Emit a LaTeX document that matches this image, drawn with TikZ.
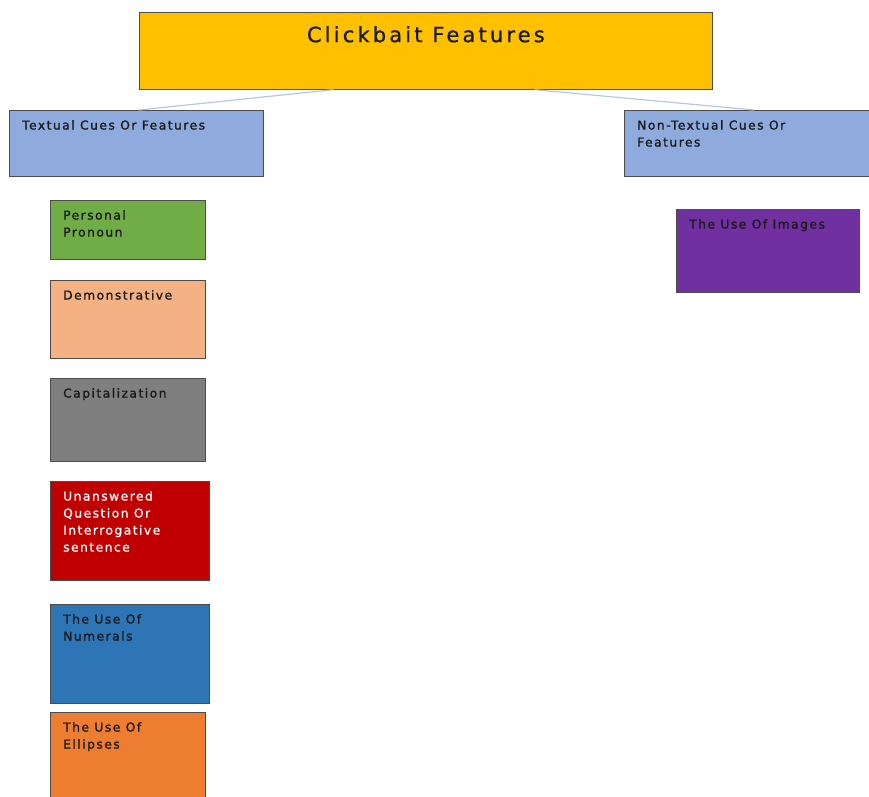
\documentclass[tikz,border=0pt]{standalone}
\usepackage{fontspec}
\setmainfont{DejaVu Sans}
\newfontfamily\boxfont[LetterSpace=12,FakeBold=1.2]{DejaVu Sans}
\newfontfamily\titlefont[LetterSpace=15,FakeBold=0.8]{DejaVu Sans}
\definecolor{cTitle}{HTML}{FFC000}
\definecolor{cCat}{HTML}{8FAADC}
\definecolor{cGreen}{HTML}{70AD47}
\definecolor{cPeach}{HTML}{F4B183}
\definecolor{cGray}{HTML}{7F7F7F}
\definecolor{cRed}{HTML}{C00000}
\definecolor{cBlue}{HTML}{2E75B6}
\definecolor{cOrange}{HTML}{ED7D31}
\definecolor{cPurple}{HTML}{7030A0}
\definecolor{cConn}{HTML}{B4C7E7}
\begin{document}
\begin{tikzpicture}[x=1pt,y=-1pt,
  box/.style={draw=black!70, line width=0.7pt, anchor=north west, inner sep=0pt},
  lbl/.style={anchor=north west, align=left, inner sep=0pt, xshift=13pt, yshift=-10pt,
    font=\boxfont\fontsize{12.3}{17}\selectfont, text=black!90},
  conn/.style={draw=cConn, line width=1.2pt}]
\useasboundingbox (0,0) rectangle (869,796);
\node[box, fill=cTitle, minimum width=573pt, minimum height=77pt,
  label={[anchor=north, inner sep=0pt, yshift=-14pt, text=black!90, font=\titlefont\fontsize{21}{24}\selectfont]north:Clickbait Features}] (title) at (139,12) {};
\node[box, fill=cCat, minimum width=254pt, minimum height=66pt,
  label={[lbl]north west:Textual Cues Or Features}] (textual) at (9,110) {};
\node[box, fill=cCat, minimum width=247pt, minimum height=66pt,
  label={[lbl]north west:Non-Textual Cues Or\\Features}] (nontextual) at (624,110) {};
\node[box, fill=cGreen, minimum width=155pt, minimum height=59pt,
  label={[lbl]north west:Personal\\Pronoun}] (pronoun) at (50,200) {};
\node[box, fill=cPeach, minimum width=155pt, minimum height=78pt,
  label={[lbl]north west:Demonstrative}] (demo) at (50,280) {};
\node[box, fill=cGray, minimum width=155pt, minimum height=83pt,
  label={[lbl]north west:Capitalization}] (caps) at (50,378) {};
\node[box, fill=cRed, minimum width=159pt, minimum height=99pt,
  label={[lbl, text=white]north west:Unanswered\\Question Or\\Interrogative\\sentence}] (question) at (50,481) {};
\node[box, fill=cBlue, minimum width=159pt, minimum height=99pt,
  label={[lbl]north west:The Use Of\\Numerals}] (numerals) at (50,604) {};
\node[box, fill=cOrange, minimum width=155pt, minimum height=95pt,
  label={[lbl]north west:The Use Of\\Ellipses}] (ellipses) at (50,712) {};
\node[box, fill=cPurple, minimum width=183pt, minimum height=83pt,
  label={[lbl]north west:The Use Of Images}] (images) at (676,209) {};
\draw[conn] ([xshift=194pt]title.south west) -- ([xshift=130pt]textual.north west);
\draw[conn] ([xshift=-178pt]title.south east) -- ([xshift=130pt]nontextual.north west);
\end{tikzpicture}
\end{document}
